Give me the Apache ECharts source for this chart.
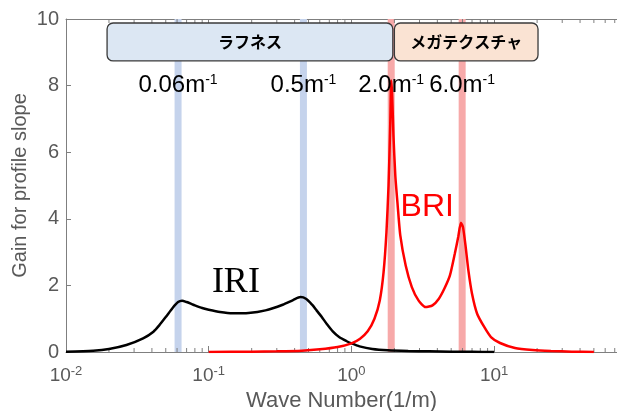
<!DOCTYPE html>
<html><head><meta charset="utf-8">
<script src="https://cdn.jsdelivr.net/npm/echarts@6/dist/echarts.min.js"></script>
<style>html,body{margin:0;padding:0;background:#fff}#c{width:617px;height:411px}</style>
</head><body><div id="c"></div>
<script>
// ---- data ----
const iriK = [0.01, 0.0155, 0.02, 0.0265, 0.0347, 0.041, 0.045, 0.05, 0.056, 0.061, 0.065, 0.07, 0.078, 0.09, 0.1, 0.12, 0.147, 0.19, 0.25, 0.33, 0.39, 0.44, 0.48, 0.53, 0.57, 0.62, 0.67, 0.74, 0.82, 0.92, 1.0, 1.14, 1.4, 1.8, 2.5, 3.5, 5, 7, 10];
const iriV = [0.01, 0.04, 0.09, 0.21, 0.41, 0.61, 0.8, 1.05, 1.33, 1.5, 1.54, 1.5, 1.42, 1.32, 1.27, 1.2, 1.16, 1.17, 1.25, 1.42, 1.56, 1.65, 1.6, 1.42, 1.25, 1.05, 0.85, 0.62, 0.45, 0.33, 0.26, 0.17, 0.09, 0.05, 0.03, 0.02, 0.01, 0.005, 0.0];
const briK = [0.1, 0.2, 0.3, 0.45, 0.6, 0.8, 1.0, 1.15, 1.3, 1.45, 1.58, 1.68, 1.76, 1.82, 1.87, 1.9, 1.93, 1.97, 2.03, 2.1, 2.2, 2.4, 2.65, 2.95, 3.3, 3.7, 4.1, 4.5, 4.9, 5.3, 5.6, 5.85, 6.05, 6.3, 6.6, 7.0, 7.6, 8.5, 9.5, 11, 14, 18.6, 25, 35, 50];
const briV = [0.0, 0.01, 0.02, 0.04, 0.08, 0.15, 0.26, 0.4, 0.62, 1.0, 1.55, 2.4, 3.6, 5.0, 6.8, 8.15, 7.7, 6.5, 5.3, 4.5, 3.5, 2.6, 1.95, 1.55, 1.35, 1.4, 1.6, 1.92, 2.3, 2.95, 3.45, 3.88, 3.75, 3.2, 2.45, 1.75, 1.15, 0.76, 0.45, 0.27, 0.12, 0.06, 0.03, 0.01, 0.0];
const bandK = [0.061, 0.461, 1.9, 5.97];
const bandLabels = ['0.06', '0.5', '2.0', '6.0'];
const bandColors = ['#c5d3ec', '#c5d3ec', '#f7a9a9', '#f7a9a9'];
const boxStart = [0.0194, 2.0];
const boxEnd = [1.95, 20.3];
const boxNames = ['ラフネス', 'メガテクスチャ'];
const boxFills = ['#dce7f3', '#fae3d3'];
const curveNames = ['IRI', 'BRI'];
const curveLabelK = [0.155, 3.4];
const curveLabelV = [2.1, 4.35];
const minorK = [0.02,0.03,0.04,0.05,0.06,0.07,0.08,0.09,0.2,0.3,0.4,0.5,0.6,0.7,0.8,0.9,2,3,4,5,6,7,8,9,20,30,40,50,60,70];
const yTicks = {min: 0, max: 10, interval: 2};
const xMin = 0.01, xMax = 72.6;

const chart = echarts.init(document.getElementById('c'), null, {renderer: 'canvas'});
const FONT = 'Liberation Sans, Arial, sans-serif';
const axisGray = '#7f7f7f';
const labelGray = '#595959';

const option = {
  animation: false,
  grid: {left: 66, top: 19, right: 0, bottom: 59, containLabel: false, outerBoundsMode: 'none'},
  xAxis: [{
    type: 'log', logBase: 10, min: xMin, max: xMax, position: 'bottom',
    name: 'Wave Number(1/m)', nameLocation: 'middle', nameGap: 37,
    nameTextStyle: {fontFamily: FONT, fontSize: 22, color: labelGray},
    axisLine: {lineStyle: {color: axisGray, width: 1}},
    axisTick: {inside: true, length: 6, lineStyle: {color: axisGray}},
    splitLine: {show: false}, minorTick: {show: false},
    axisLabel: {
      showMaxLabel: false, margin: 13,
      formatter: function (v) { const e = Math.round(Math.log10(v)); return '{b|10}{s|' + e + '}'; },
      rich: {b: {fontFamily: FONT, fontSize: 19, color: labelGray}, s: {fontFamily: FONT, fontSize: 13, color: labelGray, verticalAlign: 'top', padding: [0,0,8,0]}}
    }
  }, {
    type: 'log', logBase: 10, min: xMin, max: xMax, position: 'top',
    axisLine: {lineStyle: {color: axisGray, width: 1}},
    axisTick: {inside: true, length: 6, lineStyle: {color: axisGray}},
    axisLabel: {show: false}, splitLine: {show: false}
  }],
  yAxis: [{
    type: 'value', min: yTicks.min, max: yTicks.max, interval: yTicks.interval,
    name: 'Gain for profile slope', nameLocation: 'middle', nameGap: 36, nameMoveOverlap: false,
    nameTextStyle: {fontFamily: FONT, fontSize: 20, color: labelGray},
    axisLine: {show: true, lineStyle: {color: axisGray}},
    axisTick: {show: true, inside: true, length: 5, lineStyle: {color: axisGray}},
    axisLabel: {fontFamily: FONT, fontSize: 20, color: labelGray, margin: 7},
    splitLine: {show: false}
  }],
  series: [
    { // bands
      type: 'custom', z: 1, silent: true,
      data: bandK.map(k => [k, 0]),
      renderItem: function (params, api) {
        const k = api.value(0);
        const p0 = api.coord([k, yTicks.min]);
        const p1 = api.coord([k, yTicks.max]);
        return {type: 'rect', shape: {x: p0[0] - 3.5, y: p1[1], width: 7, height: p0[1] - p1[1]},
          style: {fill: bandColors[params.dataIndex]}};
      }
    },
    { // minor ticks
      type: 'custom', z: 2, silent: true,
      data: minorK.map(k => [k, 0]),
      renderItem: function (params, api) {
        const k = api.value(0);
        const p0 = api.coord([k, yTicks.min]);
        const p1 = api.coord([k, yTicks.max]);
        const st = {stroke: axisGray, lineWidth: 1};
        return {type: 'group', children: [
          {type: 'line', shape: {x1: p0[0], y1: p0[1], x2: p0[0], y2: p0[1] - 4}, style: st},
          {type: 'line', shape: {x1: p1[0], y1: p1[1], x2: p1[0], y2: p1[1] + 4}, style: st}
        ]};
      }
    },
    {
      name: 'IRI', type: 'line', z: 3, showSymbol: false, smooth: 0.25,
      data: iriK.map((k, i) => [k, iriV[i]]),
      lineStyle: {color: '#000', width: 2.5}
    },
    {
      name: 'BRI', type: 'line', z: 3, showSymbol: false, smooth: 0.2,
      data: briK.map((k, i) => [k, briV[i]]),
      lineStyle: {color: '#ff0000', width: 2.5}
    },
    { // band labels
      type: 'custom', z: 5, silent: true,
      data: bandK.map(k => [k, 8.0]),
      renderItem: function (params, api) {
        const p = api.coord([api.value(0), api.value(1)]);
        return {type: 'text', x: p[0], y: p[1], style: {
          text: bandLabels[params.dataIndex] + '{m|m}{s|-1}',
          fontFamily: FONT, fontSize: 24, fill: '#000', align: 'center', verticalAlign: 'middle',
          rich: {m: {fontFamily: FONT, fontSize: 24, fill: '#000'}, s: {fontFamily: FONT, fontSize: 14, fill: '#000', verticalAlign: 'top'}}
        }};
      }
    },
    { // region boxes
      type: 'custom', z: 6, silent: true,
      data: boxStart.map((k, i) => [k, boxEnd[i]]),
      renderItem: function (params, api) {
        const a = api.coord([api.value(0), 9.88]);
        const b = api.coord([api.value(1), 8.74]);
        const i = params.dataIndex;
        return {type: 'group', children: [
          {type: 'rect', shape: {x: a[0], y: a[1], width: b[0] - a[0], height: b[1] - a[1], r: 6},
            style: {fill: boxFills[i], stroke: '#3a3a3a', lineWidth: 1.3}},
          {type: 'text', x: (a[0] + b[0]) / 2, y: (a[1] + b[1]) / 2, style: {
            text: boxNames[i], fontFamily: 'Noto Sans CJK JP', fontWeight: 'bold', fontSize: 16,
            fill: '#000', align: 'center', verticalAlign: 'middle'}}
        ]};
      }
    },
    { // curve labels
      type: 'custom', z: 5, silent: true,
      data: curveLabelK.map((k, i) => [k, curveLabelV[i]]),
      renderItem: function (params, api) {
        const p = api.coord([api.value(0), api.value(1)]);
        const i = params.dataIndex;
        return {type: 'text', x: p[0], y: p[1], style: {
          text: curveNames[i],
          fontFamily: i === 0 ? 'Liberation Serif, serif' : FONT,
          fontSize: i === 0 ? 36 : 32, fill: i === 0 ? '#000' : '#ff0000',
          align: 'center', verticalAlign: 'middle'}};
      }
    }
  ]
};
chart.setOption(option);
</script></body></html>
